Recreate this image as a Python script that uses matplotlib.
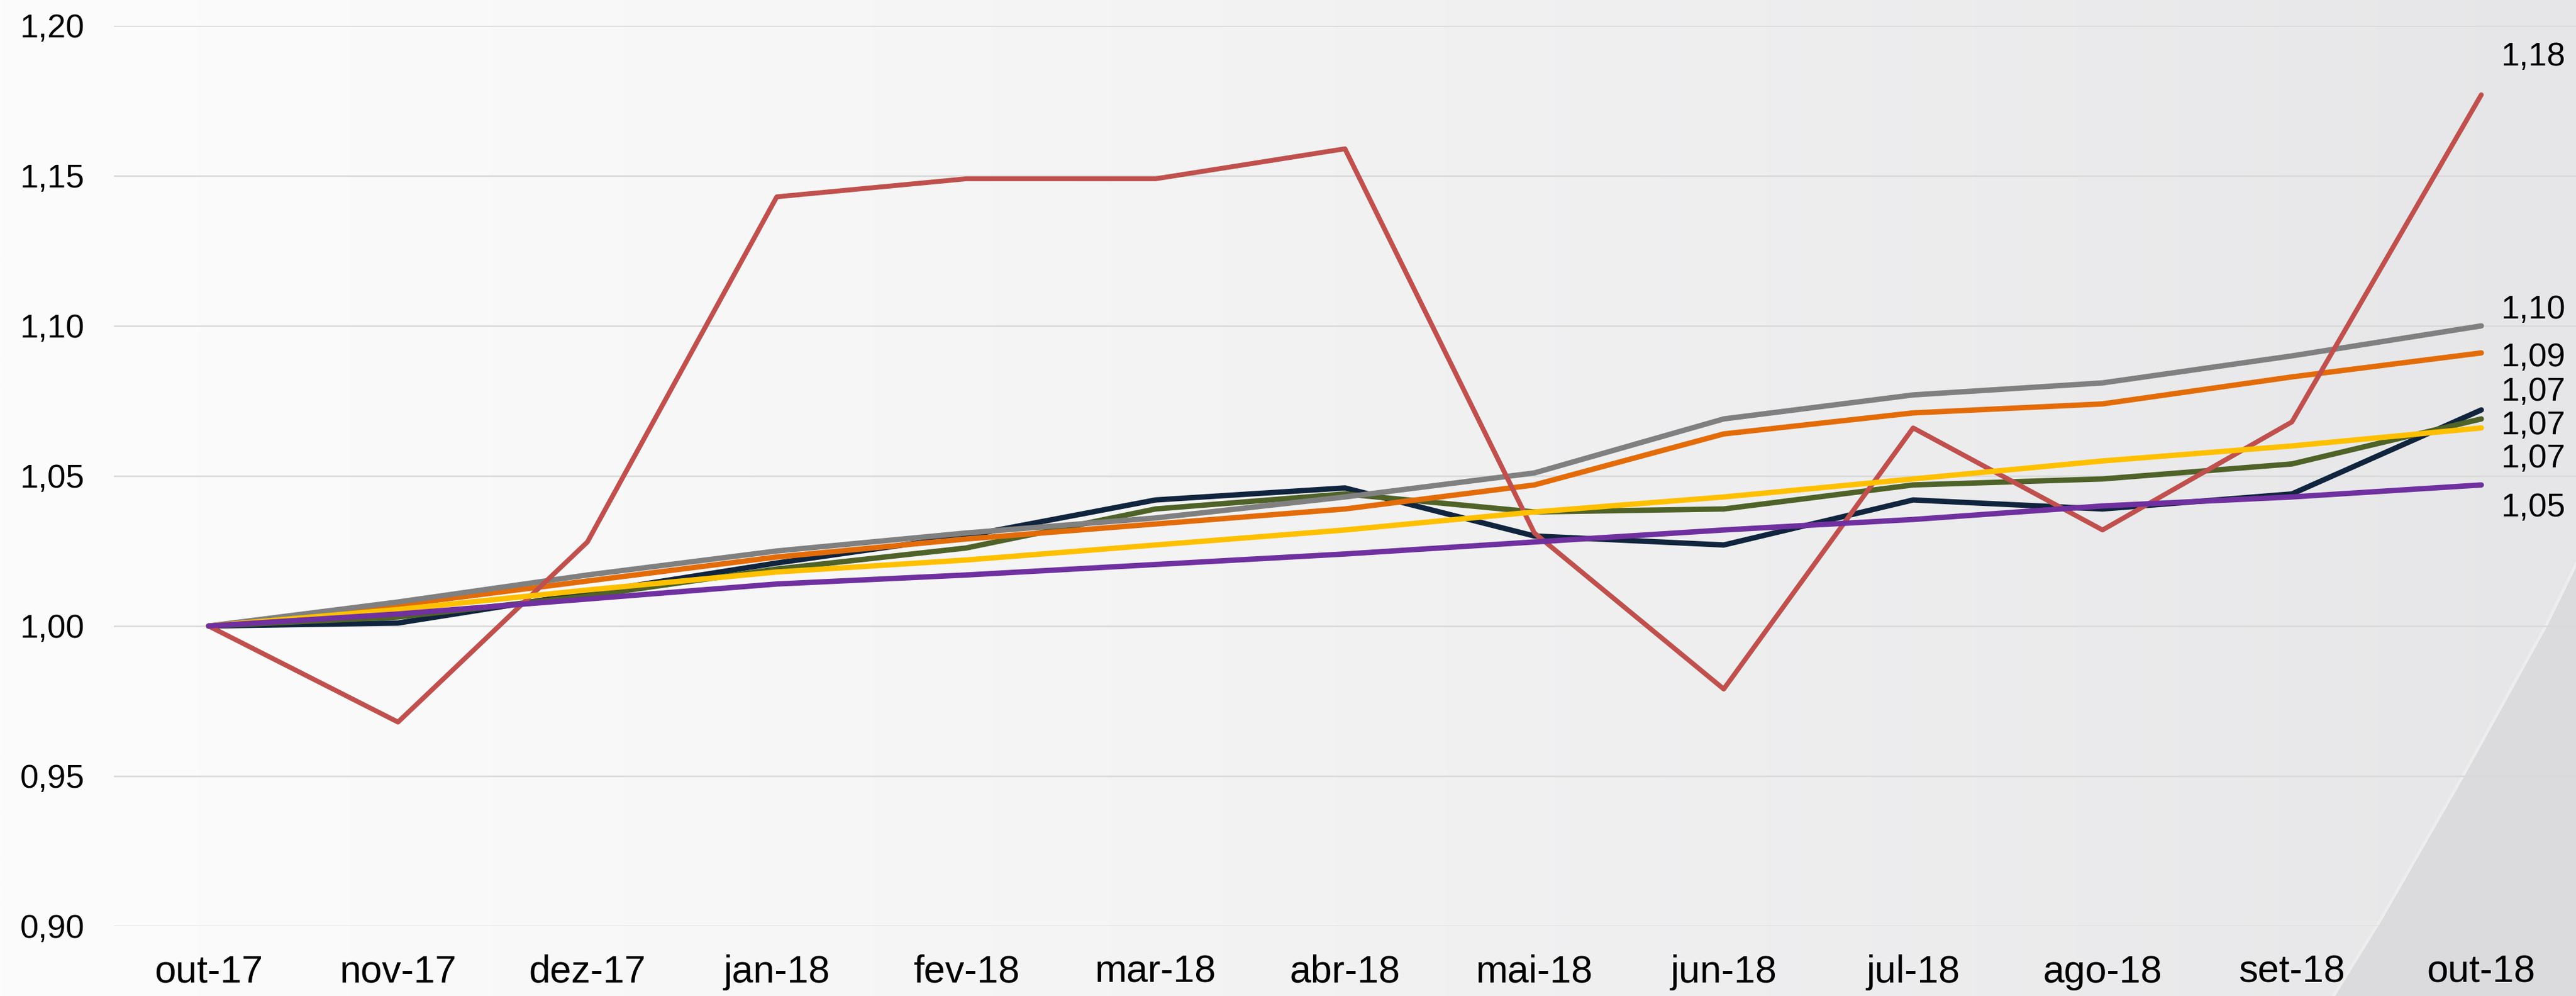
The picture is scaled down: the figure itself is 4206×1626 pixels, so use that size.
import numpy as np
import matplotlib.pyplot as plt
from matplotlib.patches import Polygon

plt.rcParams['font.family'] = ['Liberation Sans', 'DejaVu Sans']

meses = ['out-17', 'nov-17', 'dez-17', 'jan-18', 'fev-18', 'mar-18', 'abr-18',
         'mai-18', 'jun-18', 'jul-18', 'ago-18', 'set-18', 'out-18']

# indices (base out-17 = 1)
navy = [1.000, 1.001, 1.011, 1.021, 1.030, 1.042, 1.046, 1.030, 1.027, 1.042, 1.039, 1.044, 1.072]
verde = [1.000, 1.003, 1.010, 1.019, 1.026, 1.039, 1.044, 1.038, 1.039, 1.047, 1.049, 1.054, 1.069]
laranja = [1.000, 1.007, 1.015, 1.023, 1.029, 1.034, 1.039, 1.047, 1.064, 1.071, 1.074, 1.083, 1.091]
cinza = [1.000, 1.008, 1.017, 1.025, 1.031, 1.036, 1.043, 1.051, 1.069, 1.077, 1.081, 1.090, 1.100]
vermelho = [1.000, 0.968, 1.028, 1.143, 1.149, 1.149, 1.159, 1.031, 0.979, 1.066, 1.032, 1.068, 1.177]
amarelo = [1.000, 1.0055, 1.012, 1.018, 1.022, 1.027, 1.032, 1.038, 1.043, 1.049, 1.055, 1.060, 1.066]
roxo = [1.000, 1.004, 1.009, 1.014, 1.017, 1.0205, 1.024, 1.028, 1.032, 1.0355, 1.040, 1.043, 1.047]

W, H = 4206, 1626
fig = plt.figure(figsize=(W / 300, H / 300), dpi=300)

# background gradient + grey wedge bottom right
bg = fig.add_axes([0, 0, 1, 1], zorder=0)
t = np.linspace(0, 1, 600)
c0 = np.array([252, 252, 252]) / 255
c1 = np.array([230, 230, 232]) / 255
row = c0[None, :] + (c1 - c0)[None, :] * t[:, None] ** 1.2
img = np.repeat(row[None, :, :], 2, axis=0)
bg.imshow(img, extent=[0, 1, 0, 1], aspect='auto', interpolation='bilinear')
pts = [(4206, 921), (4157, 1021), (4020, 1269), (3887, 1501), (3810, 1626), (4206, 1626)]
pts = [(x / W, 1 - y / H) for x, y in pts]
bg.add_patch(Polygon(pts, closed=True, facecolor='#dbdbdd', edgecolor='none'))
bg.plot([p[0] for p in pts[:5]], [p[1] for p in pts[:5]], color='#ededee', lw=1.2)
bg.set_xlim(0, 1)
bg.set_ylim(0, 1)
bg.axis('off')

ax = fig.add_axes([186 / W, 114 / H, 1 - 186 / W, (1512 - 42) / H], zorder=1)
ax.patch.set_alpha(0)

x = np.arange(len(meses))
series = [
    (navy, '#10243e', 2.1, 2),
    (verde, '#4f6228', 2.1, 2),
    (laranja, '#e36c09', 2.1, 3),
    (cinza, '#808080', 2.1, 3),
    (vermelho, '#c0504d', 1.9, 4),
    (amarelo, '#ffc000', 2.1, 5),
    (roxo, '#7030a0', 2.1, 6),
]
for vals, cor, lw, z in series:
    ax.plot(x, vals, color=cor, lw=lw, zorder=z, solid_capstyle='round', solid_joinstyle='round')

# data labels on the last point
desloc = {'vermelho': 14.9, 'cinza': 6.2, 'laranja': -1.9, 'navy': 7.0,
          'verde': -2.6, 'amarelo': -12.2, 'roxo': -9.0}
ult = {'vermelho': vermelho, 'cinza': cinza, 'laranja': laranja, 'navy': navy,
       'verde': verde, 'amarelo': amarelo, 'roxo': roxo}
for nome, vals in ult.items():
    ax.annotate(f"{vals[-1]:.2f}".replace('.', ','), (x[-1], vals[-1]),
                xytext=(20.4, desloc[nome]), textcoords='offset points',
                ha='center', va='center', fontsize=13, color='black')

ax.set_xlim(-0.5, len(meses) - 0.5)
ax.set_ylim(0.90, 1.20)
yt = np.arange(0.90, 1.2001, 0.05)
ax.set_yticks(yt)
ax.set_yticklabels([f"{v:.2f}".replace('.', ',') for v in yt], fontsize=13)
ax.set_xticks(x)
ax.set_xticklabels(meses, fontsize=15)
ax.tick_params(axis='y', length=0, pad=11.5)
ax.tick_params(axis='x', length=0, pad=11)
ax.grid(axis='y', color='#d9d9d9', lw=0.6, zorder=0)
ax.set_axisbelow(True)
for s in ax.spines.values():
    s.set_visible(False)

fig.savefig('out.png', dpi=300)
